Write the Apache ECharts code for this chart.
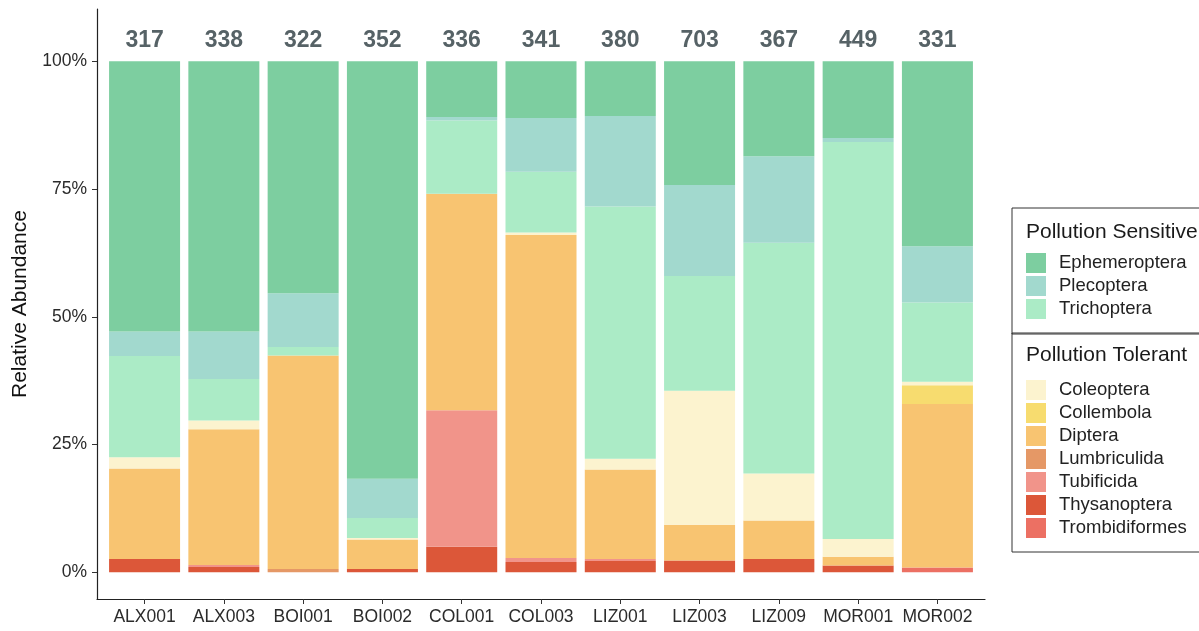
<!DOCTYPE html>
<html>
<head>
<meta charset="utf-8">
<script src="https://cdn.jsdelivr.net/npm/echarts@6/dist/echarts.min.js"></script>
<style>
  html, body { margin: 0; padding: 0; background: #fff; }
  #main { width: 1199px; height: 631px; }
</style>
</head>
<body>
<div id="main"></div>
<script>
// sites along the x axis
const sites = ['ALX001', 'ALX003', 'BOI001', 'BOI002', 'COL001', 'COL003', 'LIZ001', 'LIZ003', 'LIZ009', 'MOR001', 'MOR002'];
// total individuals per site (labels above bars)
const counts = [317, 338, 322, 352, 336, 341, 380, 703, 367, 449, 331];

// relative abundance (%) per taxon, one value per site
const ephemeroptera = [52.9, 52.9, 45.4, 81.7, 10.9, 11.1, 10.7, 24.2, 18.6, 15.0, 36.2];
const plecoptera    = [4.8, 9.3, 10.5, 7.7, 0.7, 10.5, 17.7, 17.8, 16.9, 0.8, 11.0];
const trichoptera   = [19.8, 8.1, 1.7, 3.9, 14.3, 11.9, 49.4, 22.5, 45.2, 77.7, 15.5];
const coleoptera    = [2.2, 1.7, 0, 0.3, 0, 0.5, 2.1, 26.2, 9.2, 3.5, 0.7];
const collembola    = [0, 0, 0, 0, 0, 0, 0, 0, 0, 0, 3.7];
const diptera       = [17.7, 26.6, 41.8, 5.8, 42.4, 63.2, 17.5, 7.0, 7.5, 1.7, 32.0];
const lumbriculida  = [0, 0, 0.6, 0, 0, 0, 0, 0, 0, 0, 0];
const tubificida    = [0, 0.4, 0, 0, 26.7, 0.8, 0.4, 0, 0, 0, 0];
const thysanoptera  = [2.6, 1.0, 0, 0.6, 5.0, 2.0, 2.2, 2.3, 2.6, 1.3, 0];
const trombidiformes = [0, 0, 0, 0, 0, 0, 0, 0, 0, 0, 0.9];

const yTicks = [0, 25, 50, 75, 100];

const sensitive = ['Ephemeroptera', 'Plecoptera', 'Trichoptera'];
const tolerant = ['Coleoptera', 'Collembola', 'Diptera', 'Lumbriculida', 'Tubificida', 'Thysanoptera', 'Trombidiformes'];

// stacked bottom -> top
const layers = [
  { name: 'Trombidiformes', data: trombidiformes, color: '#EC7063' },
  { name: 'Thysanoptera', data: thysanoptera, color: '#DC5739' },
  { name: 'Tubificida', data: tubificida, color: '#F1948A' },
  { name: 'Lumbriculida', data: lumbriculida, color: '#E59866' },
  { name: 'Diptera', data: diptera, color: '#F8C471' },
  { name: 'Collembola', data: collembola, color: '#F7DC6F' },
  { name: 'Coleoptera', data: coleoptera, color: '#FCF3CF' },
  { name: 'Trichoptera', data: trichoptera, color: '#ABEBC6' },
  { name: 'Plecoptera', data: plecoptera, color: '#A2D9CE' },
  { name: 'Ephemeroptera', data: ephemeroptera, color: '#7DCEA0' }
];

const font = 'Liberation Sans, Arial, sans-serif';
const siteIdx = sites.map(function (s, i) { return i; });
const chart = echarts.init(document.getElementById('main'));

// value first so that the stack runs on the y dimension
const series = layers.map(function (l) {
  const s = {
    name: l.name,
    type: 'bar',
    stack: 'total',
    barWidth: 71,
    encode: { x: 1, y: 0 },
    itemStyle: { color: l.color },
    data: l.data.map(function (v, i) { return [v, i]; })
  };
  if (l.name === 'Ephemeroptera') {
    s.label = {
      show: true,
      position: 'top',
      distance: 9,
      formatter: function (p) { return counts[p.dataIndex]; },
      fontFamily: font,
      fontSize: 23,
      fontWeight: 'bold',
      color: '#566266'
    };
  }
  return s;
});

const legendBase = {
  orient: 'vertical',
  left: 1012,
  icon: 'rect',
  itemWidth: 20,
  itemHeight: 20,
  itemGap: 3,
  selectedMode: false,
  borderColor: '#333',
  borderWidth: 1,
  borderRadius: 0,
  textStyle: { fontFamily: font, fontSize: 18.5, color: '#222', padding: [0, 0, 0, 8] }
};

chart.setOption({
  animation: false,
  textStyle: { fontFamily: font },
  title: [
    { text: 'Pollution Sensitive', left: 1026, top: 222, padding: 0,
      textStyle: { fontFamily: font, fontSize: 21, fontWeight: 'normal', color: '#1a1a1a' } },
    { text: 'Pollution Tolerant', left: 1026, top: 345, padding: 0,
      textStyle: { fontFamily: font, fontSize: 21, fontWeight: 'normal', color: '#1a1a1a' } }
  ],
  legend: [
    Object.assign({}, legendBase, { top: 208, padding: [45, 60, 15, 14], data: sensitive }),
    Object.assign({}, legendBase, { top: 333, padding: [47, 60, 14, 14], data: tolerant })
  ],
  grid: { left: 97, right: 214, top: 9, bottom: 32 },
  xAxis: {
    type: 'value',
    min: -0.6,
    max: 10.6,
    splitLine: { show: false },
    axisLine: { show: true, onZero: false, lineStyle: { color: '#222', width: 1.2 } },
    axisTick: { show: true, length: 5, customValues: siteIdx, lineStyle: { color: '#333' } },
    axisLabel: {
      customValues: siteIdx,
      formatter: function (v) { return sites[Math.round(v)]; },
      fontFamily: font, fontSize: 17.5, color: '#2b2b2b', margin: 9
    }
  },
  yAxis: {
    type: 'value',
    min: -5.25,
    max: 110.25,
    name: 'Relative Abundance',
    nameLocation: 'middle',
    nameGap: 66,
    nameTextStyle: { fontFamily: font, fontSize: 21, color: '#111' },
    splitLine: { show: false },
    axisLine: { show: true, onZero: false, lineStyle: { color: '#222', width: 1.2 } },
    axisTick: { show: true, length: 5, customValues: yTicks, lineStyle: { color: '#333' } },
    axisLabel: {
      customValues: yTicks,
      formatter: function (v) { return v + '%'; },
      fontFamily: font, fontSize: 17.5, color: '#2b2b2b', margin: 10
    }
  },
  series: series
});
</script>
</body>
</html>
